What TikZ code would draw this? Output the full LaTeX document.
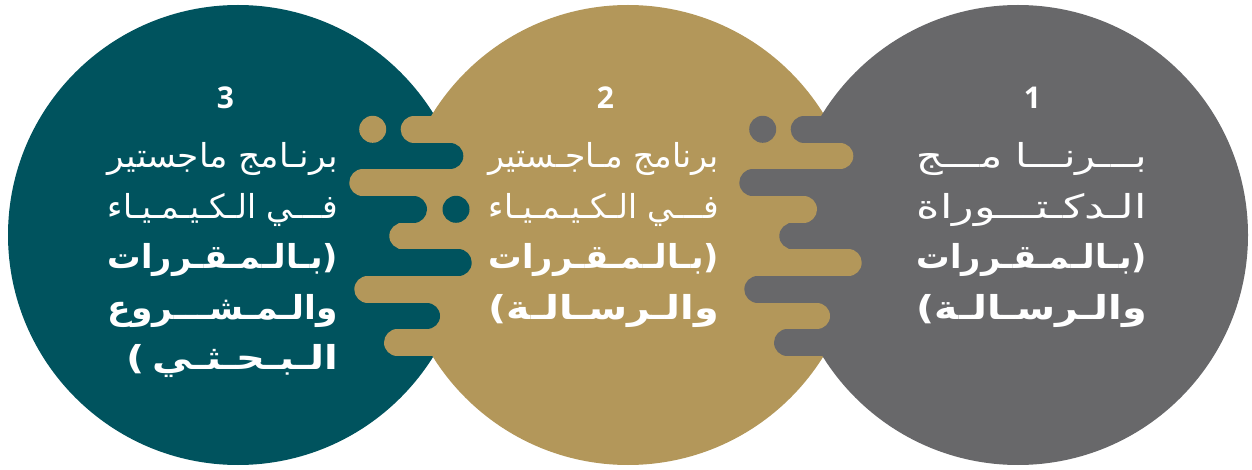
\documentclass[tikz,border=0pt]{standalone}
\usepackage{fontspec}
\usepackage{graphicx}
\setmainfont{Open Sans}
\newfontfamily\arabicfont[Script=Arabic]{DejaVu Sans}
\TeXXeTstate=1
\usetikzlibrary{positioning}
\definecolor{tealc}{HTML}{00535E}
\definecolor{goldc}{HTML}{B3975A}
\definecolor{grayc}{HTML}{68686A}
% one line of text, stretched to the width of the column
\newcommand{\arline}[2][230pt]{\resizebox{#1}{\height}{\arabicfont #2}}
\tikzset{line/.style={text=white, inner sep=0pt, anchor=base east, font=\fontsize{33}{33}\selectfont},
         boldline/.style={line, font=\bfseries\fontsize{33}{33}\selectfont},
         num/.style={text=white, inner sep=0pt, anchor=base, font=\bfseries\fontsize{30}{30}\selectfont},
         bar/.style={line width=26.67pt, line cap=round}}

\begin{document}
\begin{tikzpicture}[x=1pt, y=-1pt]
    \useasboundingbox (0,0) rectangle (1252,470);

    % the three circles
    \fill[tealc] (238,235) circle (230pt);
    \fill[goldc] (628,235) circle (230pt);
    \fill[grayc] (1018,235) circle (230pt);

    % the combs where two circles meet
    \foreach \ox/\lc/\rc in {330/tealc/goldc, 720/goldc/grayc} {
        \foreach \yy/\ee in {129.3/70.7, 182.7/19.3, 236/59.3, 289.3/24.3, 342.7/54}
            \draw[bar, \rc] (\ox+\ee+13.33,\yy) -- (\ox+240,\yy);
        \foreach \yy/\ee in {156/133.3, 209.3/97, 262.7/141.7, 316/110}
            \draw[bar, \lc] (\ox-30,\yy) -- (\ox+\ee-13.33,\yy);
        \fill[\rc] (\ox+42.7,129.3) circle (13.5pt);
    }
    \fill[tealc] (456,209.3) circle (13.5pt);

    % third circle
    \node[num] (n3) at (225.5,109) {3};
    \node[line] (t1) at (338,168) {\arline{\beginR برنـامج ماجستير\endR}};
    \node[line] (t2) at (338,219) {\arline{\beginR فـــي الـكـيـمـيـاء\endR}};
    \node[boldline] (t3) at (338,269) {\arline{\beginR بـالـمـقـررات\endR\hbox{(}}};
    \node[boldline] (t4) at (338,319) {\arline{\beginR والـمـشـــروع\endR}};
    \node[boldline] (t5) at (338,369) {\arline[211pt]{\hbox{)}\kern6pt\beginR الـبـحـثـي\endR}};

    % second circle
    \node[num] (n2) at (605.5,109) {2};
    \node[line] (g1) at (719,168) {\arline{\beginR برنامج مـاجـستير\endR}};
    \node[line] (g2) at (719,219) {\arline{\beginR فـــي الـكـيـمـيـاء\endR}};
    \node[boldline] (g3) at (719,269) {\arline{\beginR بـالـمـقـررات\endR\hbox{(}}};
    \node[boldline] (g4) at (719,319) {\arline{\hbox{)}\beginR والـرسـالـة\endR}};

    % first circle
    \node[num] (n1) at (1032.5,109) {1};
    \node[line] (d1) at (1147,168) {\arline{\beginR بـــرنـــا مـــج\endR}};
    \node[line] (d2) at (1147,219) {\arline{\beginR الـدكـتـــوراة\endR}};
    \node[boldline] (d3) at (1147,269) {\arline{\beginR بـالـمـقـررات\endR\hbox{(}}};
    \node[boldline] (d4) at (1147,319) {\arline{\hbox{)}\beginR والـرسـالـة\endR}};
\end{tikzpicture}
\end{document}
